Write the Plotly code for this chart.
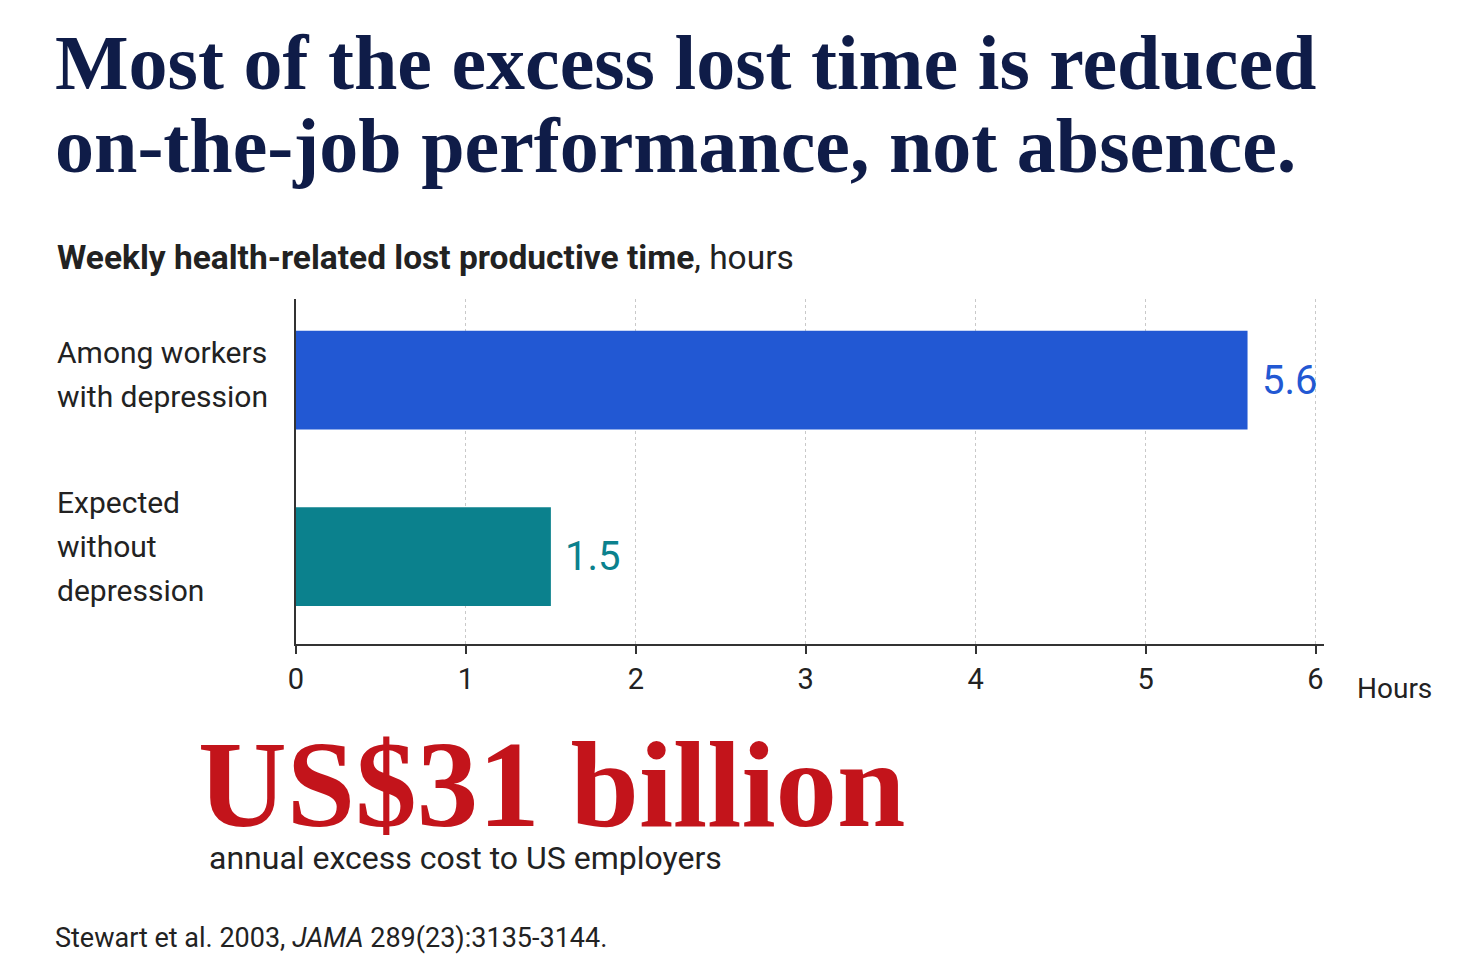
import plotly.graph_objects as go

# data
groups = ["Among workers<br>with depression", "Expected<br>without<br>depression"]
hours = [5.6, 1.5]
bar_colors = ["#2258d3", "#0b818d"]
x_ticks = [0, 1, 2, 3, 4, 5, 6]

title_lines = ["Most of the excess lost time is reduced", "on-the-job performance, not absence."]
subtitle = "<b>Weekly health-related lost productive time</b>, hours"
big_number = "US$31 billion"
big_caption = "annual excess cost to US employers"
source = "Stewart et al. 2003, <i>JAMA</i> 289(23):3135-3144."

W, H = 1469, 979
OFF = 8  # page body margin of the browser
L, R, T, B = 296, 1324, 299, 644  # plot box in pixels of the final page

SANS = "Roboto, Lato, Arial, sans-serif"
SERIF = "Liberation Serif, Times New Roman, serif"
INK = "#222222"


def px_x(px):
    return (px - L) / (R - L)


def px_y(py):
    return (B - py) / (B - T)


fig = go.Figure()
fig.add_trace(go.Bar(
    x=hours,
    y=groups,
    orientation='h',
    width=0.56,
    marker=dict(color=bar_colors, line=dict(width=0)),
    hoverinfo='skip',
))

fig.update_layout(
    width=W - 2 * OFF, height=H - 2 * OFF,
    margin=dict(l=L - OFF, r=W - OFF - R, t=T - OFF, b=H - OFF - B, pad=0),
    paper_bgcolor="white",
    plot_bgcolor="white",
    showlegend=False,
    font=dict(family=SANS, color=INK),
)

fig.update_xaxes(
    range=[0, 6.05],
    tickvals=x_ticks,
    ticktext=[str(t) for t in x_ticks],
    tickfont=dict(family=SANS, size=29, color=INK),
    showline=True, linecolor="#333333", linewidth=2,
    ticks="outside", ticklen=8, tickwidth=2, tickcolor="#333333",
    showgrid=True, gridcolor="#c9c9c9", griddash="dot", gridwidth=1,
    zeroline=False,
)
fig.update_yaxes(
    categoryorder="array", categoryarray=groups,
    range=[1.495, -0.46],
    showticklabels=False,
    showline=True, linecolor="#333333", linewidth=2,
    showgrid=False, zeroline=False,
)

annotations = []

# value labels at the bar ends
for g, v, c in zip(groups, hours, bar_colors):
    annotations.append(dict(
        text=str(v), x=v, y=g, xref="x", yref="y",
        xanchor="left", yanchor="middle", xshift=12,
        showarrow=False, font=dict(family=SANS, size=40, color=c),
    ))

# title, two lines
for i, line in enumerate(title_lines):
    annotations.append(dict(
        text="<b>" + line + "</b>", xref="paper", yref="paper",
        x=px_x(53), y=px_y(62 + i * 84), xanchor="left", yanchor="middle",
        showarrow=False, font=dict(family=SERIF, size=78, color="#0f1c48"),
    ))

annotations.append(dict(
    text=subtitle, xref="paper", yref="paper",
    x=px_x(55), y=px_y(257), xanchor="left", yanchor="middle",
    showarrow=False, font=dict(family=SANS, size=33.5, color=INK),
))

# category labels, left aligned, one annotation per line
centers = [374, 546]
for g, c in zip(groups, centers):
    lines = g.split("<br>")
    for j, line in enumerate(lines):
        yy = c + (j - (len(lines) - 1) / 2) * 44
        annotations.append(dict(
            text=line, xref="paper", yref="paper",
            x=px_x(55), y=px_y(yy), xanchor="left", yanchor="middle",
            showarrow=False, font=dict(family=SANS, size=30, color=INK),
        ))

annotations.append(dict(
    text="Hours", xref="paper", yref="paper",
    x=px_x(1355), y=px_y(688), xanchor="left", yanchor="middle",
    showarrow=False, font=dict(family=SANS, size=28, color=INK),
))

annotations.append(dict(
    text="<b>" + big_number + "</b>", xref="paper", yref="paper",
    x=px_x(196), y=px_y(784), xanchor="left", yanchor="middle",
    showarrow=False, font=dict(family=SERIF, size=123, color="#c3141b"),
))
annotations.append(dict(
    text=big_caption, xref="paper", yref="paper",
    x=px_x(207), y=px_y(858), xanchor="left", yanchor="middle",
    showarrow=False, font=dict(family=SANS, size=32, color=INK),
))
annotations.append(dict(
    text=source, xref="paper", yref="paper",
    x=px_x(53), y=px_y(938), xanchor="left", yanchor="middle",
    showarrow=False, font=dict(family=SANS, size=27, color=INK),
))

fig.update_layout(annotations=annotations)

fig.write_html("out.html")
